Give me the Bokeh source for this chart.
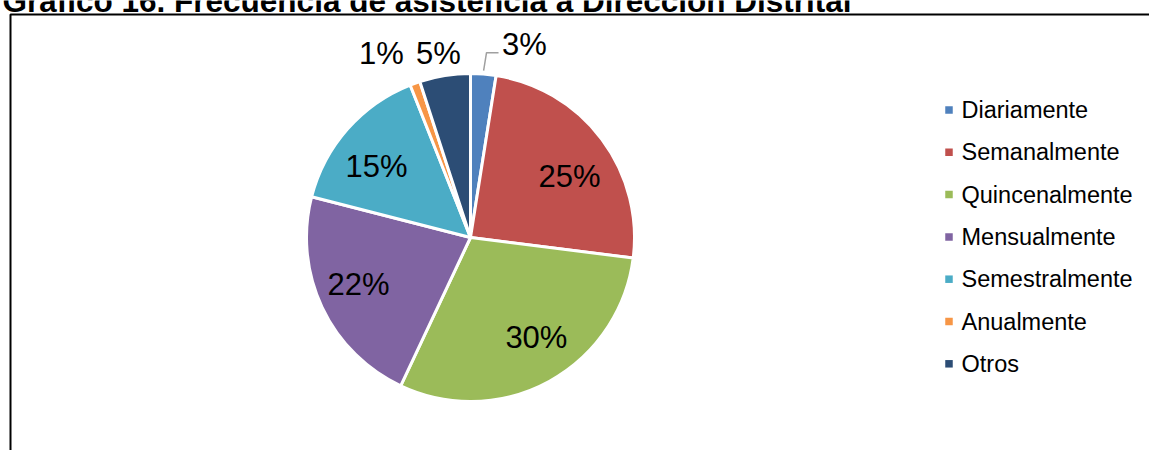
import math
from bokeh.plotting import figure
from bokeh.models import Range1d
from bokeh.core.properties import value
from bokeh.embed import file_html
from bokeh.resources import INLINE

# ---- data ----
title = "Gráfico 16. Frecuencia de asistencia a Dirección Distrital"
categories = ["Diariamente", "Semanalmente", "Quincenalmente", "Mensualmente",
              "Semestralmente", "Anualmente", "Otros"]
shares = [2.5, 24.5, 30.0, 22.0, 15.0, 1.0, 5.0]
labels = ["3%", "25%", "30%", "22%", "15%", "1%", "5%"]
colors = ["#4F81BD", "#C0504D", "#9BBB59", "#8064A2", "#4BACC6", "#F79646", "#2C4D75"]

# ---- label placement (style): angle shift in degrees, radius factor ----
label_shift = [11.15, 5.3, -4.6, 2.4, -4.3, -6.05, -0.9]
label_rfac = [1.221, 0.709, 0.730, 0.741, 0.718, 1.245, 1.137]

W, H = 1149, 450
FONT = "Liberation Sans"

def Y(y_img):
    return H - y_img

p = figure(width=W, height=H, x_range=Range1d(0, W), y_range=Range1d(0, H),
           output_backend="svg", toolbar_location=None,
           x_axis_location=None, y_axis_location=None,
           min_border=0)
p.grid.visible = False
p.outline_line_color = None
p.background_fill_color = "white"
p.border_fill_color = "white"

# frame border of the chart area
p.line(x=[10, 10, W + 20], y=[Y(H + 20), Y(14), Y(14)], line_color="black", line_width=2)

# title (partially cut at top as in original)
TFS = 31.5
p.text(x=[2], y=[Y(12 - 0.358 * TFS)], text=[title], text_font=value(FONT),
       text_font_style="bold", text_font_size=f"{TFS}px", text_baseline="middle",
       text_align="left", text_color="black")

# pie
cx, cy, R = 470, Y(237), 164
total = sum(shares)
starts, ends, mids = [], [], []
cum = 0.0
for s in shares:
    a0 = cum / total
    cum += s
    a1 = cum / total
    starts.append(math.pi / 2 - a0 * 2 * math.pi)
    ends.append(math.pi / 2 - a1 * 2 * math.pi)
    mids.append((a0 + a1) / 2 * 360.0)

p.wedge(x=[cx] * len(shares), y=[cy] * len(shares), radius=R,
        start_angle=starts, end_angle=ends, direction="clock",
        fill_color=colors, line_color="white", line_width=3)

# labels (centered on the computed point)
LFS = 31
lx, ly = [], []
for m, sh, rf in zip(mids, label_shift, label_rfac):
    th = math.radians(m + sh)
    lx.append(cx + rf * R * math.sin(th))
    ly.append(cy + rf * R * math.cos(th))
p.text(x=lx, y=ly, text=labels, text_font=value(FONT), text_font_size=f"{LFS}px",
       text_align="center", text_baseline="middle", text_color="black")

# leader line for the first (small) slice
th0 = math.radians(mids[0])
sx, sy = cx + 1.02 * R * math.sin(th0), cy + 1.02 * R * math.cos(th0)
lcx, lcy = lx[0], ly[0]
p.line(x=[sx, lcx - 38, lcx - 26], y=[sy, lcy - 8, lcy - 8],
       line_color="#A0A0A0", line_width=1.5)

# legend
leg_x, leg_top, leg_dy = 948.5, 109.5, 42.3
LEG_FS = 23.5
leg_y = [Y(leg_top + i * leg_dy) for i in range(len(categories))]
p.scatter(x=[leg_x] * len(categories), y=leg_y, marker="square", size=7.5,
          fill_color=colors, line_color=None)
p.text(x=[leg_x + 12.5] * len(categories), y=leg_y,
       text=categories, text_font=value(FONT), text_font_size=f"{LEG_FS}px",
       text_align="left", text_baseline="middle", text_color="black")

open("out.html", "w").write(file_html(p, INLINE))
